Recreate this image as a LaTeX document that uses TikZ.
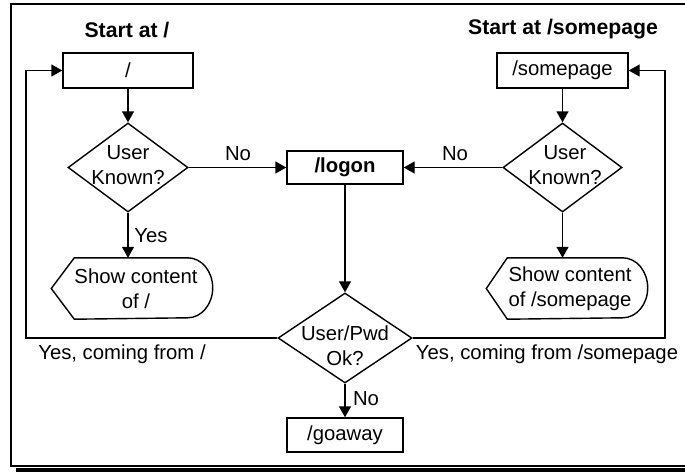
\documentclass[tikz,border=0pt]{standalone}
\usepackage{fontspec}
\setmainfont{Liberation Sans}
\usetikzlibrary{shapes.geometric,arrows.meta}
\begin{document}
\begin{tikzpicture}[x=1pt,y=-1pt,line width=1.4pt,
  every node/.style={font=\fontsize{20.3}{25}\selectfont, inner sep=0pt},
  title/.style={font=\fontsize{21.2}{24}\selectfont\bfseries},
  box/.style={draw, rectangle, inner sep=0pt},
  dia/.style={draw, diamond, inner sep=0pt},
  disp/.style={rectangle, inner sep=0pt, minimum width=160pt, minimum height=60pt},
  arr/.style={-{Triangle[length=11pt,width=12pt]}}]
\useasboundingbox (0,0) rectangle (685,471);
% frame
\draw (11,4) rectangle (700,466);
\fill (16,467.5) rectangle (700,473);
% titles
\node[title] (t1) at (127,30) {Start at /};
\node[title] (t2) at (563,29) {Start at /somepage};
% boxes
\node[box, minimum width=130pt, minimum height=35pt] (b1) at (128,70.5) {/};
\node[box, minimum width=131pt, minimum height=35pt] (b2) at (562.5,70.5) {/somepage};
\node[box, minimum width=116pt, minimum height=33pt, font=\fontsize{20.3}{25}\selectfont\bfseries] (lg) at (345,167.5) {/logon};
\node[box, minimum width=116pt, minimum height=34pt] (ga) at (345,435) {/goaway};
% diamonds
\node[dia, minimum width=120pt, minimum height=89pt] (d1) at (128,167.5) {};
\node[align=center] (d1t) at (128,165) {User\\Known?};
\node[dia, minimum width=119pt, minimum height=89pt] (d2) at (562.5,167.5) {};
\node[align=center] (d2t) at (565,165) {User\\Known?};
\node[dia, minimum width=134pt, minimum height=90pt] (d3) at (345,338) {};
\node[align=center] (d3t) at (345,346) {User/Pwd\\Ok?};
% display shapes
\node[disp] (s1) at (132,288.5) {};
\node[align=center] (s1t) at (136,289) {Show content\\of /};
\draw (s1.west) -- ([xshift=23pt]s1.north west) -- ([xshift=-25pt]s1.north east)
  arc[start angle=90, end angle=-90, x radius=25pt, y radius=30pt]
  -- ([xshift=23pt]s1.south west) -- cycle;
\node[disp] (s2) at (567,288.5) {};
\node[align=center] (s2t) at (570,289) {Show content\\of /somepage};
\draw (s2.west) -- ([xshift=21pt]s2.north west) -- ([xshift=-25pt]s2.north east)
  arc[start angle=90, end angle=-90, x radius=25pt, y radius=30pt]
  -- ([xshift=21pt]s2.south west) -- cycle;
% connectors
\coordinate (cl) at (26,338);
\coordinate (cr) at (665,338);
\draw[arr] (b1.south) -- (d1.north);
\draw[arr] (b2.south) -- (d2.north);
\draw[arr] (d1.east) -- (lg.west);
\draw[arr] (d2.west) -- (lg.east);
\draw[arr] (d1.south) -- (d1.south |- s1.north);
\draw[arr] (d2.south) -- (d2.south |- s2.north);
\draw[arr] (lg.south) -- (d3.north);
\draw[arr] (d3.south) -- (ga.north);
\draw[arr] (d3.west) -- (cl) |- (b1.west);
\draw[arr] (d3.east) -- (cr) |- (b2.east);
% labels
\node (n1) at (238,154) {No};
\node (n2) at (455,154) {No};
\node (y1) at (151,236) {Yes};
\node (n3) at (366,399) {No};
\node (y2) at (122,354) {Yes, coming from /};
\node (y3) at (547,354) {Yes, coming from /somepage};
\end{tikzpicture}
\end{document}
